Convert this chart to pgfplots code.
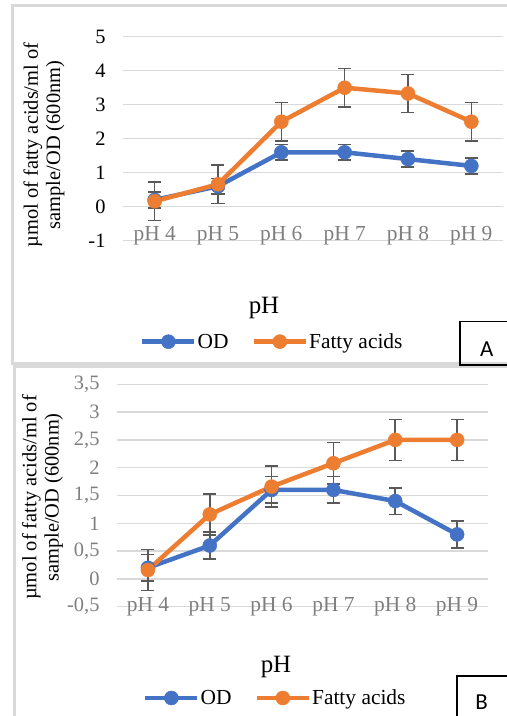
\documentclass[border=0pt]{standalone}
\usepackage{fontspec}
\setmainfont{Liberation Serif}
\newfontfamily\calib{Carlito}
\usepackage{pgfplots}
\pgfplotsset{compat=1.18}
\definecolor{odblue}{HTML}{4472C4}
\definecolor{faorange}{HTML}{ED7D31}
\definecolor{gridgray}{HTML}{D9D9D9}
\definecolor{labgray}{HTML}{7F7F7F}
\definecolor{errgray}{HTML}{595959}

\pgfplotsset{
  excel/.style={
    scale only axis, clip=false,
    axis line style={draw=none},
    major tick length=0pt,
    ymajorgrids, grid style={gridgray, line width=1.5bp},
    xmin=-0.5, xmax=5.5,
    xtick={0,...,5},
    xticklabels={pH 4,pH 5,pH 6,pH 7,pH 8,pH 9},
    xticklabel style={font=\fontsize{21.5}{24}\selectfont, text=labgray, anchor=center},
    yticklabel style={font=\fontsize{20.5}{24}\selectfont, anchor=east, xshift=-14bp},
    ylabel style={font=\fontsize{20.5}{22.5}\selectfont, align=center, anchor=center},
    xlabel style={font=\fontsize{25}{28}\selectfont, anchor=center},
    legend columns=2,
    legend style={draw=none, fill=none, anchor=west, inner sep=0pt,
      font=\fontsize{21.5}{24}\selectfont,
      nodes={inner sep=1bp},
      /tikz/every even column/.append style={column sep=22bp}},
    legend image code/.code={
      \draw[mark repeat=2, mark phase=2, #1]
        plot coordinates {(0bp,0bp) (26bp,0bp) (52bp,0bp)};},
    /pgf/number format/assume math mode=true,
  },
  serie/.style={#1, line width=4.5bp, mark=*, mark size=7bp,
    mark options={solid, fill=#1, draw=#1, line width=0.5bp},
    error bars/.cd, y dir=both, y explicit,
    error bar style={errgray, line width=1.6bp},
    error mark options={rotate=90, errgray, mark size=6.5bp, line width=1.6bp}},
}

\begin{document}
\begin{tikzpicture}
\path[use as bounding box] (0,0) rectangle (507bp,716bp);
% chart frames
\draw[gridgray, line width=3bp] (12.5bp,352.5bp) rectangle (530bp,710bp);
\draw[gridgray, line width=3bp] (14bp,-20bp) rectangle (530bp,349bp);

% ---- panel A ----
\begin{axis}[excel,
  at={(123bp,475.3bp)}, anchor=south west, width=380bp, height=204bp,
  ymin=-1, ymax=5, ytick={-1,0,...,5}, yticklabels={-1,0,1,2,3,4,5},
  xticklabel style={yshift=5bp},
  ylabel={µmol of fatty acids/ml of\\sample/OD (600nm)},
  ylabel style={at={(rel axis cs:-0.208,0.469)}},
  xlabel={pH},
  xlabel style={at={(rel axis cs:0.371,-0.33)}},
  legend style={at={(rel axis cs:0.0447,-0.495)}},
]
\addplot[serie=odblue] coordinates {
  (0,0.2) +- (0,0.23) (1,0.6) +- (0,0.23) (2,1.6) +- (0,0.23)
  (3,1.6) +- (0,0.23) (4,1.4) +- (0,0.23) (5,1.2) +- (0,0.23)};
\addplot[serie=faorange] coordinates {
  (0,0.16) +- (0,0.57) (1,0.66) +- (0,0.57) (2,2.5) +- (0,0.56)
  (3,3.5) +- (0,0.57) (4,3.33) +- (0,0.56) (5,2.5) +- (0,0.56)};
\legend{OD,Fatty acids}
\end{axis}

% ---- panel B ----
\begin{axis}[excel,
  at={(117bp,109.3bp)}, anchor=south west, width=371bp, height=222.4bp,
  ymin=-0.5, ymax=3.5, ytick={-0.5,0,0.5,1,1.5,2,2.5,3,3.5},
  yticklabels={{-0,5},{0},{0,5},{1},{1,5},{2},{2,5},{3},{3,5}},
  yticklabel style={text=labgray},
  ylabel={µmol of fatty acids/ml of\\sample/OD (600nm)},
  ylabel style={at={(rel axis cs:-0.2008,0.491)}},
  xlabel={pH},
  xlabel style={at={(rel axis cs:0.4286,-0.27)}},
  legend style={at={(rel axis cs:0.070,-0.4105)}},
]
\addplot[serie=odblue] coordinates {
  (0,0.2) +- (0,0.24) (1,0.6) +- (0,0.24) (2,1.6) +- (0,0.24)
  (3,1.6) +- (0,0.24) (4,1.4) +- (0,0.24) (5,0.8) +- (0,0.24)};
\addplot[serie=faorange] coordinates {
  (0,0.16) +- (0,0.37) (1,1.16) +- (0,0.37) (2,1.66) +- (0,0.37)
  (3,2.08) +- (0,0.37) (4,2.5) +- (0,0.37) (5,2.5) +- (0,0.37)};
\legend{OD,Fatty acids}
\end{axis}

% panel tags
\draw[black, line width=1.5bp] (460bp,351bp) rectangle (530bp,394.5bp);
\node[font=\calib\fontsize{23}{26}\selectfont] at (486.7bp,366.7bp) {A};
\draw[black, line width=1.5bp] (457bp,-10bp) rectangle (530bp,40bp);
\node[font=\calib\fontsize{23}{26}\selectfont] at (481.7bp,14.3bp) {B};
\end{tikzpicture}
\end{document}
